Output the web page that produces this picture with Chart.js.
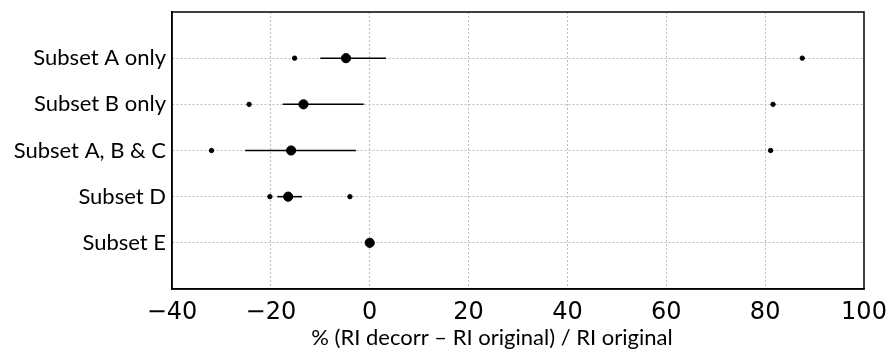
<!DOCTYPE html>
<html lang="en">
<head>
  <meta charset="UTF-8">
  <title>RI decorr vs RI original</title>
  <script src="https://cdn.jsdelivr.net/npm/chart.js@4.4.1/dist/chart.umd.min.js"></script>
  <style>
    body { margin: 0; background: #fff; }
    #wrap { width: 890px; height: 349px; }
  </style>
</head>
<body>
<div id="wrap"><canvas id="riChart"></canvas></div>

<script>
  // data (top row first)
  const categories = ["Subset A only", "Subset B only", "Subset A, B & C", "Subset D", "Subset E"];
  const meanVals = [-4.8, -13.4, -15.9, -16.5, 0];
  const errLow = [-10.0, -17.6, -25.2, -18.7, null];
  const errHigh = [3.3, -1.2, -2.8, -13.7, null];
  const minVals = [-15.2, -24.4, -32.0, -20.2, null];
  const maxVals = [87.5, 81.6, 81.1, -4.0, null];
  const xTicks = [-40, -20, 0, 20, 40, 60, 80, 100];
  const xTitle = "% (RI decorr \u2013 RI original) / RI original";

  // row position: top category sits highest
  const rowY = i => categories.length - i;

  const datasets = [];
  categories.forEach((c, i) => {
    if (errLow[i] === null) return;
    datasets.push({
      data: [{ x: errLow[i], y: rowY(i) }, { x: errHigh[i], y: rowY(i) }],
      showLine: true, borderColor: "#000", borderWidth: 1.5,
      pointRadius: 0, order: 3
    });
  });
  const smallPts = [];
  categories.forEach((c, i) => {
    if (minVals[i] !== null) smallPts.push({ x: minVals[i], y: rowY(i) });
    if (maxVals[i] !== null) smallPts.push({ x: maxVals[i], y: rowY(i) });
  });
  datasets.push({
    data: smallPts, pointRadius: 2.2, backgroundColor: "#000", borderColor: "#000", order: 2
  });
  datasets.push({
    data: meanVals.map((v, i) => ({ x: v, y: rowY(i) })),
    pointRadius: 4.6, backgroundColor: "#000", borderColor: "#000", order: 1
  });

  const gridColor = "#bdbdbd";

  // x axis title placed like the original figure
  const xTitlePlugin = {
    id: "xTitle",
    afterDraw(chart) {
      const ctx = chart.ctx;
      ctx.save();
      ctx.font = "22px Lato";
      ctx.fillStyle = "#000";
      ctx.textAlign = "center";
      ctx.textBaseline = "middle";
      ctx.fillText(xTitle, 492, 338);
      ctx.restore();
    }
  };

  new Chart(document.getElementById("riChart"), {
    type: "scatter",
    data: { datasets },
    options: {
      responsive: true,
      maintainAspectRatio: false,
      animation: false,
      layout: { padding: { top: 12, right: 26, left: 0, bottom: 0 } },
      plugins: { legend: { display: false }, tooltip: { enabled: false } },
      scales: {
        x: {
          type: "linear", min: -40, max: 100,
          afterBuildTicks: s => { s.ticks = xTicks.map(v => ({ value: v })); },
          afterFit: s => { s.height = 60; s.paddingLeft = 0; s.paddingRight = 0; },
          grid: {
            color: ctx => (ctx.tick && (ctx.tick.value === -40 || ctx.tick.value === 100)) ? "rgba(0,0,0,0)" : gridColor,
            lineWidth: 1, drawTicks: false
          },
          border: { display: true, color: "#000", width: 1.5, dash: [2, 2] },
          ticks: {
            padding: 9, color: "#000",
            font: { family: "DejaVu Sans", size: 24 },
            callback: v => (v < 0 ? "\u2212" + Math.abs(v) : String(v))
          }
        },
        y: {
          type: "linear", min: 0, max: 6,
          afterBuildTicks: s => { s.ticks = categories.map((c, i) => ({ value: rowY(i) })); },
          afterFit: s => { s.width = 172; s.paddingTop = 0; s.paddingBottom = 0; },
          grid: { color: gridColor, lineWidth: 1, drawTicks: false },
          border: { display: true, color: "#000", width: 1.5, dash: [2, 2] },
          ticks: {
            padding: 6, color: "#000",
            font: { family: "Lato", size: 22 },
            callback: v => categories[categories.length - v]
          }
        }
      }
    },
    plugins: [xTitlePlugin, {
      id: "frame",
      afterDatasetsDraw(chart) {
        const { ctx, chartArea: a } = chart;
        ctx.save();
        ctx.setLineDash([]);
        ctx.strokeStyle = "#000";
        ctx.lineWidth = 1.5;
        ctx.strokeRect(a.left, a.top, a.right - a.left, a.bottom - a.top);
        ctx.restore();
      }
    }]
  });
</script>
</body>
</html>
